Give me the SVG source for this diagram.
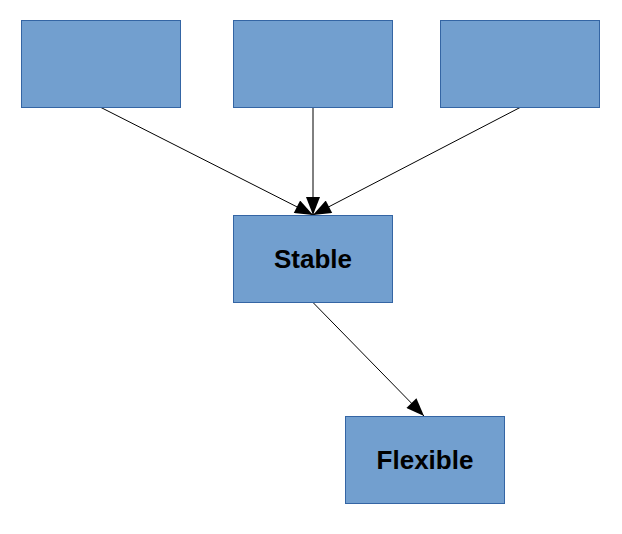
<svg xmlns="http://www.w3.org/2000/svg" width="622" height="534" viewBox="0 0 622 534">
<style>
.box{fill:#729fcf;stroke:#3465a4;stroke-width:1}
.lbl{font-family:"Liberation Sans",Arial,sans-serif;font-weight:bold;font-size:26px;fill:#000;text-anchor:middle;dominant-baseline:central}
.edge{stroke:#000;stroke-width:1;fill:none;marker-end:url(#ah)}
</style>
<defs>
<marker id="ah" markerUnits="userSpaceOnUse" markerWidth="20" markerHeight="14" refX="18" refY="7" orient="auto" viewBox="0 0 18 14">
<path d="M0,0 L18,7 L0,14 Z" fill="#000"/>
</marker>
</defs>
<g id="connectors">
<line class="edge" x1="101" y1="107.5" x2="313" y2="215"/>
<line class="edge" x1="313" y1="107.5" x2="313" y2="215"/>
<line class="edge" x1="520" y1="107.5" x2="313" y2="215"/>
<line class="edge" x1="313" y1="302.5" x2="424" y2="416"/>
</g>
<g id="n1"><rect class="box" x="21.5" y="20.5" width="159" height="87"/></g>
<g id="n2"><rect class="box" x="233.5" y="20.5" width="159" height="87"/></g>
<g id="n3"><rect class="box" x="440.5" y="20.5" width="159" height="87"/></g>
<g id="stable"><rect class="box" x="233.5" y="215.5" width="159" height="87"/><text class="lbl" x="313" y="259">Stable</text></g>
<g id="flexible"><rect class="box" x="345.5" y="416.5" width="159" height="87"/><text class="lbl" x="425" y="460">Flexible</text></g>
</svg>
